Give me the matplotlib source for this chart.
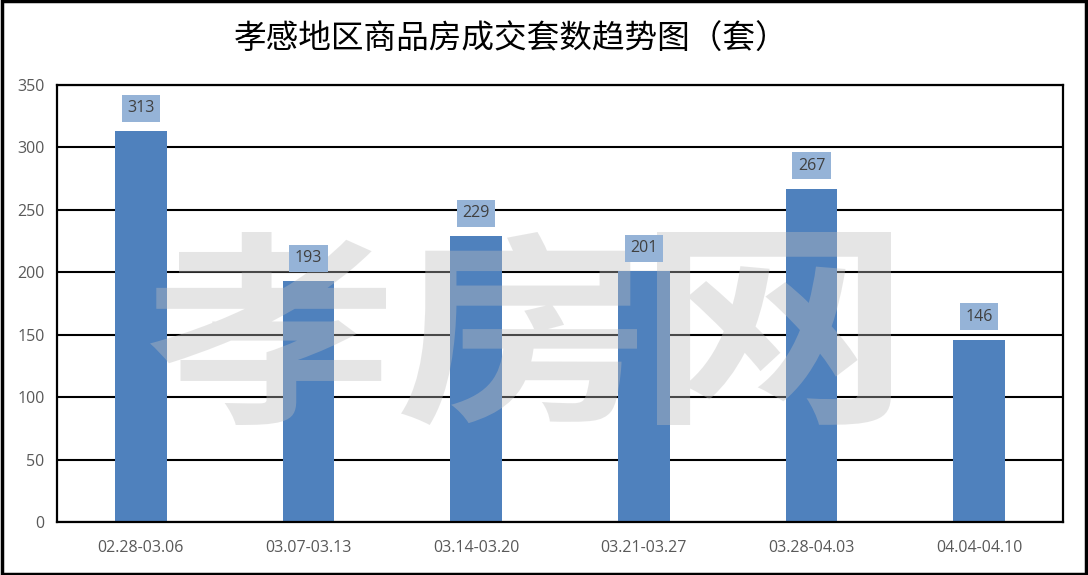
import matplotlib
matplotlib.use("Agg")
import matplotlib.pyplot as plt
from matplotlib.patches import Rectangle, PathPatch
from matplotlib.textpath import TextPath
from matplotlib.font_manager import FontProperties
from matplotlib.transforms import Affine2D, IdentityTransform

categories = ["02.28-03.06", "03.07-03.13", "03.14-03.20", "03.21-03.27", "03.28-04.03", "04.04-04.10"]
values = [313, 193, 229, 201, 267, 146]
yticks = [0, 50, 100, 150, 200, 250, 300, 350]
title = "孝感地区商品房成交套数趋势图（套）"
watermark = "孝房网"

W, H = 1088, 575
fig = plt.figure(figsize=(W / 100, H / 100), dpi=100)
ax = fig.add_axes([57 / W, 1 - 522 / H, (1063 - 57) / W, (522 - 85) / H])

x = list(range(len(categories)))
ax.bar(x, values, width=0.31, color="#4F81BD", zorder=2)
ax.set_xlim(-0.5, len(categories) - 0.5)
ax.set_ylim(0, 350)
ax.set_yticks(yticks)
ax.set_xticks(x)
ax.set_xticklabels(categories)
ax.yaxis.grid(True, color="black", linewidth=1.5, zorder=1)
ax.set_axisbelow(True)
for s in ax.spines.values():
    s.set_linewidth(1.6)
    s.set_color("black")
    s.set_zorder(5)
ax.tick_params(axis="both", length=0, labelcolor="#595959", labelsize=11.5)
ax.tick_params(axis="y", pad=9)
ax.tick_params(axis="x", pad=13)
for lab in ax.get_xticklabels() + ax.get_yticklabels():
    lab.set_family("Open Sans")

for xi, v in zip(x, values):
    ax.annotate(str(v), (xi, v), xytext=(0, 16.5), textcoords="offset points",
                ha="center", va="center", fontsize=11.5, family="Open Sans",
                color="#404040", zorder=6,
                bbox=dict(boxstyle="square,pad=0.35", facecolor="#95B3D7", edgecolor="none"))

# watermark: each glyph stretched into its box (pixel coords, top-left origin)
fp = FontProperties(family="Noto Sans CJK SC", weight="bold")
boxes = [(150, 386), (401, 637), (657, 891)]
wm_top, wm_bot = 232, 425
for ch, (x0, x1) in zip(watermark, boxes):
    tp = TextPath((0, 0), ch, size=100, prop=fp)
    ext = tp.get_extents()
    sx = (x1 - x0) / ext.width
    sy = (wm_bot - wm_top) / ext.height
    tr = Affine2D().translate(-ext.x0, -ext.y0).scale(sx, sy).translate(x0, H - wm_bot)
    patch = PathPatch(tr.transform_path(tp), facecolor="#BEBEBE", edgecolor="none",
                      alpha=0.39, transform=IdentityTransform(), zorder=3, clip_on=False)
    ax.add_artist(patch)

fig.text(511 / W, 1 - 40 / H, title, fontsize=23.5, family=["Noto Sans CJK SC", "DejaVu Sans"],
         ha="center", va="center", color="black")

fig.patches.append(Rectangle((0.0015, 0.0025), 0.997, 0.995, transform=fig.transFigure,
                             fill=False, edgecolor="black", linewidth=2.5, zorder=10))

fig.savefig("out.png", dpi=100)
